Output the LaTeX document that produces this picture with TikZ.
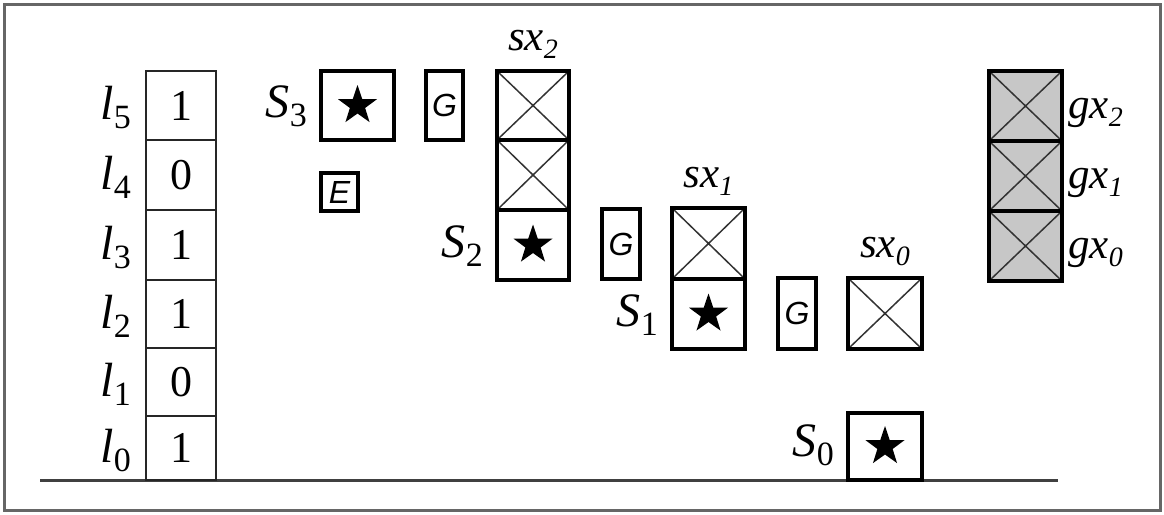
\documentclass[tikz,border=0pt]{standalone}
\usepackage{fontspec}
\setmainfont{Liberation Serif}
\setsansfont{Liberation Sans}
\usetikzlibrary{shapes.geometric}

% label with italic letter and upright subscript (l_i, S_i)
\newcommand{\IdxLbl}[2]{{\fontsize{48}{50}\selectfont\itshape #1}\raisebox{-9pt}{\fontsize{34}{34}\selectfont #2}}
% fully italic label with subscript (sx_i, gx_i)
\newcommand{\VarLbl}[2]{{\fontsize{43}{44}\selectfont\itshape #1\raisebox{-8pt}{\fontsize{28}{28}\selectfont #2}}}

\tikzset{
  cell/.style={draw=black!85, line width=1.8pt, rectangle, inner sep=0pt,
    font=\fontsize{44}{46}\selectfont},
  heavy/.style={draw=black, line width=4pt, rectangle, inner sep=0pt},
  crossed/.style={heavy, path picture={
      \draw[line width=1.5pt, black!80]
        (path picture bounding box.south west) -- (path picture bounding box.north east)
        (path picture bounding box.north west) -- (path picture bounding box.south east);}},
  shaded/.style={crossed, fill=black!22},
  tag/.style={heavy, font=\sffamily\itshape\fontsize{32}{34}\selectfont},
  starmark/.style={star, star points=5, star point ratio=2.55, fill=black,
    draw=none, minimum size=41pt, inner sep=0pt},
  lbl/.style={inner sep=0pt},
}

\begin{document}
\begin{tikzpicture}[x=1pt, y=-1pt]
\useasboundingbox (0,0) rectangle (1164,514);

% outer frame
\draw[black!60, line width=3pt] (4,4) rectangle (1160,510);

% ground line
\coordinate (gl) at (40,480);
\coordinate (gr) at (1058,480);
\draw[black!75, line width=3pt] (gl) -- (gr);

% bit ladder l_5 ... l_0
\node[cell, minimum width=70pt, minimum height=69pt] (c5) at (181,105.5) {1};
\node[cell, minimum width=70pt, minimum height=70pt] (c4) at (181,175) {0};
\node[cell, minimum width=70pt, minimum height=70pt] (c3) at (181,245) {1};
\node[cell, minimum width=70pt, minimum height=68pt] (c2) at (181,314) {1};
\node[cell, minimum width=70pt, minimum height=68pt] (c1) at (181,382) {0};
\node[cell, minimum width=70pt, minimum height=64pt] (c0) at (181,448) {1};
\foreach \i in {0,...,5}
  \node[lbl, anchor=base east] (l\i) at ([xshift=-14pt, yshift=-14pt]c\i.west) {\IdxLbl{l}{\i}};

% stage 3
\node[heavy, minimum width=73pt, minimum height=69pt] (s3) at (357.5,105.5) {};
\node[starmark] (st3) at (s3) {};
\node[lbl, anchor=base east] (s3l) at ([xshift=-12pt, yshift=-12pt]s3.west) {\IdxLbl{S}{3}};
\node[tag, minimum width=37pt, minimum height=69pt] (g3) at (444.5,105.5) {G};
\node[tag, minimum width=37pt, minimum height=38pt] (e3) at (339.5,192) {E};

% stage 2
\node[crossed, minimum width=72pt, minimum height=69pt] (x2a) at (533,105.5) {};
\node[crossed, minimum width=72pt, minimum height=70pt] (x2b) at (533,175) {};
\node[heavy, minimum width=72pt, minimum height=70pt] (s2) at (533,245) {};
\node[starmark] (st2) at (s2) {};
\node[lbl, anchor=base] (sx2) at ([yshift=19pt]x2a.north) {\VarLbl{sx}{2}};
\node[lbl, anchor=base east] (s2l) at ([xshift=-12pt, yshift=-12pt]s2.west) {\IdxLbl{S}{2}};
\node[tag, minimum width=38pt, minimum height=70pt] (g2) at (621,244) {G};

% stage 1
\node[crossed, minimum width=73pt, minimum height=71pt] (x1) at (708.5,243.5) {};
\node[heavy, minimum width=73pt, minimum height=70pt] (s1) at (708.5,314) {};
\node[starmark] (st1) at (s1) {};
\node[lbl, anchor=base] (sx1) at ([yshift=19pt]x1.north) {\VarLbl{sx}{1}};
\node[lbl, anchor=base east] (s1l) at ([xshift=-12pt, yshift=-12pt]s1.west) {\IdxLbl{S}{1}};
\node[tag, minimum width=38pt, minimum height=71pt] (g1) at (797,313.5) {G};

% stage 0
\node[crossed, minimum width=74pt, minimum height=71pt] (x0) at (885,313.5) {};
\node[lbl, anchor=base] (sx0) at ([yshift=19pt]x0.north) {\VarLbl{sx}{0}};
\node[heavy, minimum width=74pt, minimum height=67pt] (s0) at (885,446.5) {};
\node[starmark] (st0) at (s0) {};
\node[lbl, anchor=base east] (s0l) at ([xshift=-12pt, yshift=-10pt]s0.west) {\IdxLbl{S}{0}};

% shaded gx column
\node[shaded, minimum width=73pt, minimum height=70pt] (gx2) at (1025.5,106) {};
\node[shaded, minimum width=73pt, minimum height=70pt] (gx1) at (1025.5,176) {};
\node[shaded, minimum width=73pt, minimum height=70pt] (gx0) at (1025.5,246) {};
\foreach \i in {0,1,2}
  \node[lbl, anchor=base west] (gl\i) at ([xshift=4pt, yshift=-12pt]gx\i.east) {\VarLbl{gx}{\i}};
\end{tikzpicture}
\end{document}
